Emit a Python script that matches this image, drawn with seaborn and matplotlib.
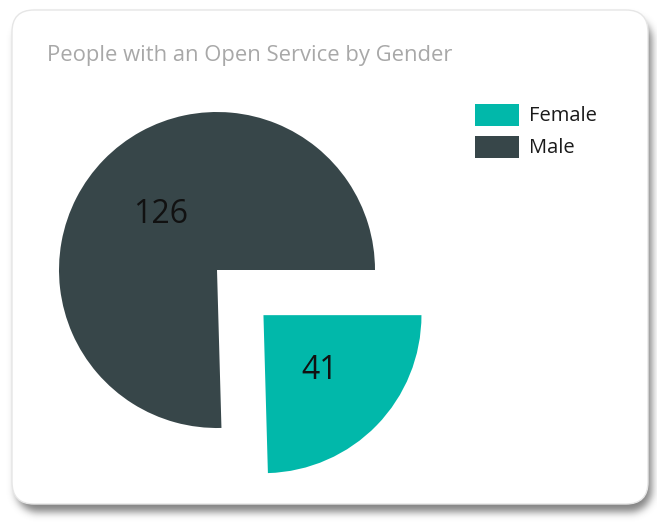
import numpy as np
import matplotlib
matplotlib.use("Agg")
import matplotlib.pyplot as plt
from matplotlib.patches import FancyBboxPatch, Rectangle
import seaborn as sns

# Data
categories = ["Female", "Male"]
counts = [41, 126]
colors = ["#01B8AA", "#374649"]
title = "People with an Open Service by Gender"

sns.set_theme(style="white")
plt.rcParams["font.family"] = ["Open Sans", "DejaVu Sans"]

W, H = 657, 523
fig = plt.figure(figsize=(W / 100, H / 100), dpi=100)
fig.patch.set_facecolor("white")

# Background layer in pixel coordinates (card + soft shadow)
bg = fig.add_axes([0, 0, 1, 1])
bg.set_xlim(0, W)
bg.set_ylim(H, 0)
bg.axis("off")

x0, y0, x1, y1, rad = 12, 10, 648, 504, 22


def rounded_mask(xa, ya, xb, yb, r):
    yy, xx = np.mgrid[0:H, 0:W] + 0.5
    cx = np.clip(xx, xa + r, xb - r)
    cy = np.clip(yy, ya + r, yb - r)
    d = np.hypot(xx - cx, yy - cy)
    inside = (xx >= xa) & (xx <= xb) & (yy >= ya) & (yy <= yb)
    return (inside & (d <= r)).astype(float)


def blur(a, s):
    k = np.arange(-3 * s, 3 * s + 1)
    g = np.exp(-(k ** 2) / (2 * s * s))
    g /= g.sum()
    a = np.apply_along_axis(lambda v: np.convolve(v, g, mode="same"), 0, a)
    a = np.apply_along_axis(lambda v: np.convolve(v, g, mode="same"), 1, a)
    return a


shadow = blur(rounded_mask(x0 + 4, y0 + 8, x1 + 4, y1 + 8, rad), 4)
rgba = np.zeros((H, W, 4))
rgba[..., :3] = 0.35
rgba[..., 3] = shadow * 0.75
bg.imshow(rgba, extent=(0, W, H, 0), interpolation="bilinear", zorder=0)

card = FancyBboxPatch((x0 + rad, y0 + rad), (x1 - x0) - 2 * rad, (y1 - y0) - 2 * rad,
                      boxstyle=f"round,pad={rad}", facecolor="white",
                      edgecolor="#E6E6E6", linewidth=1.0, zorder=1)
bg.add_patch(card)

bg.text(47, 56, title, fontsize=15.8, color="#A8A8A8", va="center", ha="left", zorder=2)

# Legend
for i, (name, col) in enumerate(zip(categories, colors)):
    bg.add_patch(Rectangle((475, 104 + 32 * i), 44, 22, facecolor=col,
                           edgecolor="none", zorder=2))
    bg.text(529, 116 + 32 * i, name, fontsize=14.5, color="#1A1A1A",
            va="center", ha="left", zorder=2)

# Pie layer: one data unit equals the pie radius (158 px), centred at (217, 270)
cxp, cyp, rp = 217, 270, 158
ax = fig.add_axes([0, 0, 1, 1])
ax.patch.set_alpha(0)
ax.axis("off")

total = sum(counts)
wedges, texts, autotexts = ax.pie(
    counts,
    colors=colors,
    startangle=0,
    counterclock=False,
    explode=[0.41, 0.0],
    radius=1.0,
    autopct=lambda p: f"{round(p * total / 100):d}",
    pctdistance=0.5,
    textprops=dict(fontsize=23, color="#111111"),
    wedgeprops=dict(linewidth=0),
)
ax.set_xlim(-cxp / rp, (W - cxp) / rp)
ax.set_ylim(-(H - cyp) / rp, cyp / rp)
ax.set_aspect("auto")

fig.savefig("out.png", dpi=100, facecolor="white")
